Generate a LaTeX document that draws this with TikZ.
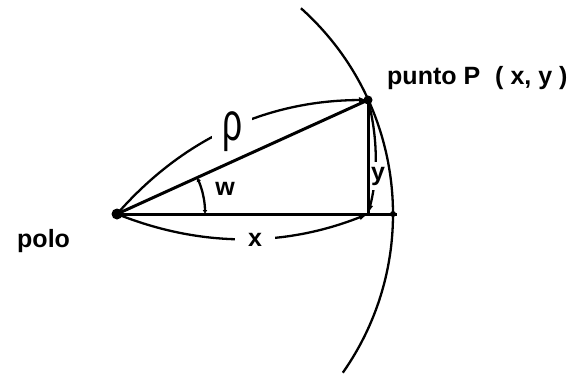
\documentclass[tikz,border=0pt]{standalone}
\usepackage{fontspec}
\setmainfont{Liberation Sans}
\usetikzlibrary{arrows.meta}
\begin{document}
\begin{tikzpicture}[x=1pt,y=-1pt,
  lbl/.style={font=\fontsize{25}{29}\selectfont\bfseries, inner sep=0pt},
  gaplbl/.style={lbl, fill=white},
  mainline/.style={line width=3pt},
  dimline/.style={line width=2.3pt},
  endtip/.style={-{Latex[length=9pt,width=6pt]}},
  dot/.style={fill=black}]
\useasboundingbox (0,0) rectangle (573,376);
\coordinate (O) at (117,214);
\coordinate (P) at (368,100);
\coordinate (F) at (368,214);
\coordinate (E) at (393,214);
\coordinate (Eend) at (397,214);
% circle arc centred at the pole
\draw[line width=2.3pt] (O) ++(48.2:276pt) arc[start angle=48.2, end angle=-35.1, radius=276pt];
% dimension curves
\draw[dimline, endtip] (O) .. controls (183.4,138.3) and (267.1,100.3) .. (P);
\draw[dimline, endtip] (O) .. controls (200.3,247.3) and (284,247.3) .. (F);
\draw[dimline, endtip] (P) .. controls (378,138) and (378,176) .. (F);
% labels that break the curves
\node[gaplbl, inner xsep=10pt, inner ysep=2pt] (rho) at (232,132)
  {\resizebox*{20pt}{40pt}{\mdseries ρ}};
\node[gaplbl, inner xsep=13pt, inner ysep=2pt] (xl) at (255,240) {x};
\node[gaplbl, inner xsep=2pt, inner ysep=5pt] (yl) at (378,176) {y};
% angle arc
\draw[line width=2.3pt, {Latex[length=4pt,width=5pt]}-{Latex[length=4pt,width=5pt]}]
  (O) ++(0:88pt) arc[start angle=0, end angle=24.4, radius=88pt];
\node[lbl] (wl) at (225,189) {w};
% main lines
\draw[mainline] (O) -- (P);
\draw[mainline] (O) -- (Eend);
\draw[mainline] (P) -- (F);
% points
\fill[dot] (O) circle[radius=5.5pt];
\fill[dot] (P) circle[radius=4.5pt];
\fill[dot] (E) circle[radius=3pt];
% texts
\node[lbl, anchor=base west] (polo) at (17,247) {polo};
\node[lbl, anchor=base west] (punto) at (387,84) {punto P\hspace{0.6em}( x, y )};
\end{tikzpicture}
\end{document}
